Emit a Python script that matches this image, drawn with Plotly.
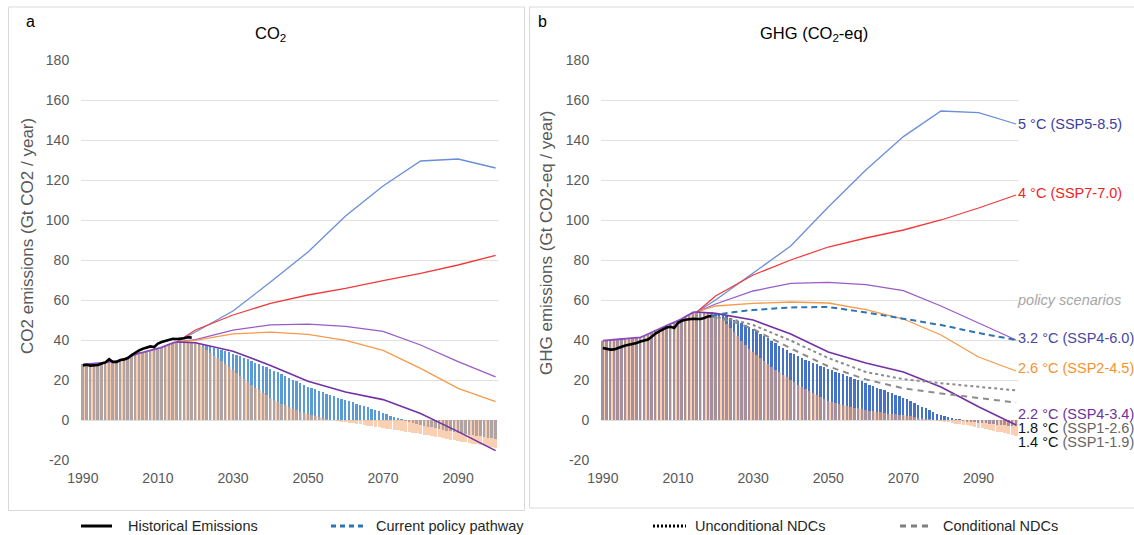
import plotly.graph_objects as go

# ---------------- data ----------------
years = list(range(1990, 2101))
hist_years = list(range(1990, 2020))
scen_years = [2015, 2020, 2030, 2040, 2050, 2060, 2070, 2080, 2090, 2100]
policy_years = [2019, 2020, 2025, 2030, 2040, 2050, 2060, 2070, 2080, 2090, 2100]
x_ticks = [1990, 2010, 2030, 2050, 2070, 2090]
y_ticks = [-20, 0, 20, 40, 60, 80, 100, 120, 140, 160, 180]
y_tick_labels = ["-20", "0", "20", "40", "60", "80", "100", "120", "140", "160", "180"]

# Panel a: CO2 (Gt CO2 / year)
co2_observed = [27.3, 27.6, 27.2, 27.2, 27.5, 28.2, 28.8, 30.4, 29.0, 29.0,
                30.0, 30.3, 31.0, 32.5, 33.8, 34.8, 35.6, 36.4, 36.8, 36.5,
                38.2, 39.0, 39.6, 40.2, 40.6, 40.5, 40.6, 40.9, 41.4, 41.2]
co2_scen_hist = [27.8, 27.9, 28.0, 28.2, 28.4, 28.6, 28.8, 29.1, 29.4, 29.6,
                 29.8, 30.5, 31.3, 32.1, 32.8, 33.4, 33.8, 34.3, 34.7, 35.1,
                 35.5, 36.3, 37.1, 37.9, 38.6, 39.0, 39.0, 39.0, 39.0, 39.0]
co2_ssp119 = [39.0, 37.8, 36.4, 35.0, 33.6, 32.2, 30.8, 29.4, 28.0, 26.5,
              25.0, 23.5, 22.0, 20.5, 19.0, 17.6, 16.2, 14.9, 13.6, 12.3,
              11.0, 10.0, 9.1, 8.2, 7.3, 6.5, 5.7, 4.9, 4.2, 3.6,
              3.0, 2.5, 2.0, 1.5, 1.0, 0.6, 0.2, -0.2, -0.5, -0.8,
              -1.0, -1.3, -1.6, -1.9, -2.2, -2.5, -2.8, -3.1, -3.4, -3.7,
              -4.0, -4.3, -4.6, -4.9, -5.2, -5.5, -5.8, -6.1, -6.4, -6.7,
              -7.0, -7.3, -7.7, -8.0, -8.4, -8.7, -9.1, -9.4, -9.8, -10.1,
              -10.5, -10.8, -11.2, -11.5, -11.9, -12.2, -12.6, -12.9, -13.3, -13.6,
              -14.0]
co2_ssp126 = [39.0, 38.5, 38.0, 37.4, 36.8, 36.2, 35.6, 35.0, 34.4, 33.8,
              33.2, 32.5, 31.8, 31.1, 30.3, 29.5, 28.7, 27.9, 27.1, 26.3,
              25.5, 24.7, 23.8, 22.9, 22.0, 21.1, 20.2, 19.3, 18.4, 17.5,
              16.7, 16.0, 15.3, 14.6, 13.9, 13.2, 12.5, 11.8, 11.1, 10.5,
              10.0, 9.4, 8.8, 8.2, 7.6, 7.0, 6.4, 5.7, 5.0, 4.3,
              3.6, 2.9, 2.2, 1.5, 0.8, 0.2, -0.4, -1.0, -1.5, -2.0,
              -2.5, -2.9, -3.3, -3.7, -4.1, -4.5, -4.9, -5.3, -5.7, -6.1,
              -6.4, -6.7, -7.0, -7.3, -7.6, -7.9, -8.2, -8.5, -8.8, -9.1,
              -9.4]
co2_ssp585 = [39.0, 44.0, 54.5, 69.0, 84.0, 102.0, 117.0, 129.5, 130.5, 126.0]
co2_ssp370 = [39.0, 45.0, 52.5, 58.3, 62.5, 65.8, 69.7, 73.3, 77.5, 82.3]
co2_ssp460 = [39.0, 40.2, 44.9, 47.6, 47.9, 46.8, 44.3, 37.5, 29.2, 21.6]
co2_ssp245 = [39.0, 39.8, 43.1, 43.9, 42.8, 39.8, 34.8, 25.8, 15.8, 9.2]
co2_ssp434 = [39.0, 38.6, 34.4, 27.3, 19.4, 14.0, 10.2, 3.2, -5.8, -15.3]

# Panel b: GHG (Gt CO2-eq / year)
ghg_observed = [36.0, 35.6, 35.2, 35.3, 35.8, 36.6, 37.2, 37.6, 38.0, 38.5,
                39.2, 39.6, 40.2, 41.6, 43.2, 44.3, 45.3, 46.3, 46.6, 46.0,
                48.6, 49.6, 50.1, 50.4, 50.6, 50.5, 50.5, 51.0, 51.8, 52.0]
ghg_scen_hist = [39.7, 39.8, 40.0, 40.1, 40.3, 40.5, 40.7, 40.9, 41.1, 41.2,
                 41.3, 42.1, 43.0, 43.9, 44.8, 45.7, 46.6, 47.4, 48.1, 48.8,
                 49.5, 50.6, 51.7, 52.8, 53.8, 54.0, 54.0, 54.0, 54.0, 54.0]
ghg_ssp119 = [53.0, 51.5, 49.8, 48.0, 46.0, 44.0, 41.8, 39.6, 37.6, 35.7,
              34.0, 32.4, 30.8, 29.3, 27.9, 26.5, 25.2, 23.9, 22.6, 21.3,
              20.0, 18.8, 17.6, 16.5, 15.4, 14.4, 13.4, 12.4, 11.4, 10.4,
              9.5, 8.9, 8.4, 7.9, 7.4, 7.0, 6.6, 6.2, 5.8, 5.4,
              5.0, 4.7, 4.4, 4.1, 3.8, 3.5, 3.2, 3.0, 2.8, 2.6,
              2.4, 2.1, 1.8, 1.5, 1.2, 0.9, 0.6, 0.3, 0.0, -0.3,
              -0.6, -0.9, -1.2, -1.5, -1.8, -2.1, -2.4, -2.7, -3.0, -3.4,
              -3.8, -4.2, -4.6, -5.0, -5.4, -5.8, -6.2, -6.6, -7.0, -7.4,
              -8.0]
ghg_ssp126 = [53.5, 53.0, 52.4, 51.8, 51.0, 50.2, 49.3, 48.4, 47.4, 46.4,
              45.4, 44.3, 43.2, 42.0, 40.8, 39.6, 38.4, 37.2, 36.0, 34.8,
              33.7, 32.8, 31.9, 31.0, 30.2, 29.4, 28.6, 27.8, 27.0, 26.3,
              25.6, 24.9, 24.2, 23.5, 22.8, 22.1, 21.4, 20.7, 20.0, 19.3,
              18.3, 17.6, 16.9, 16.2, 15.5, 14.8, 14.1, 13.4, 12.7, 12.0,
              11.2, 10.3, 9.4, 8.5, 7.6, 6.7, 5.8, 4.9, 4.0, 3.2,
              2.5, 1.9, 1.4, 0.9, 0.5, 0.1, -0.3, -0.6, -0.9, -1.1,
              -1.3, -1.5, -1.7, -1.9, -2.1, -2.3, -2.5, -2.7, -2.8, -2.9,
              -3.0]
ghg_ssp585 = [54.0, 60.0, 73.5, 87.0, 106.5, 125.0, 141.7, 154.5, 153.7, 148.0]
ghg_ssp370 = [54.0, 62.0, 72.5, 80.0, 86.5, 91.0, 95.0, 100.0, 106.0, 112.5]
ghg_ssp460 = [54.0, 58.0, 64.5, 68.3, 68.8, 67.7, 64.7, 57.0, 48.5, 40.0]
ghg_ssp245 = [54.0, 57.0, 58.3, 59.0, 58.5, 55.2, 50.5, 42.5, 31.5, 24.5]
ghg_ssp434 = [54.0, 53.3, 50.0, 43.0, 34.0, 28.5, 24.0, 16.5, 6.6, -2.5]
ghg_current_policy = [52.0, 52.5, 54.0, 55.0, 56.3, 56.5, 53.8, 50.8, 47.5, 43.5, 40.0]
ghg_uncond_ndc = [52.0, 51.5, 50.0, 47.5, 39.7, 31.0, 24.0, 20.4, 18.4, 16.7, 14.8]
ghg_cond_ndc = [52.0, 51.2, 49.0, 45.5, 35.8, 26.8, 20.3, 15.8, 13.3, 11.0, 8.7]

end_labels = ["5 °C (SSP5-8.5)", "4 °C (SSP7-7.0)", "<i>policy scenarios</i>",
              "3.2 °C (SSP4-6.0)", "2.6 °C (SSP2-4.5)", "2.2 °C (SSP4-3.4)",
              "<span style='color:#111111'>1.8 °C</span> (SSP1-2.6)",
              "<span style='color:#111111'>1.4 °C</span> (SSP1-1.9)"]
end_label_y = [147.5, 113.0, 59.5, 40.5, 25.5, 2.5, -4.8, -11.8]
end_label_colors = ["#3d3d9e", "#f02424", "#a6a6a6", "#4a46a6", "#f7922e",
                    "#7030a0", "#666666", "#666666"]

# ---------------- layout helpers ----------------
W, H = 1134, 535
FONT = "Liberation Sans, Arial, Helvetica, sans-serif"
GRID = "#e1e1e1"
TICK = "#595959"


def px(x):
    return x / W


def py(y):
    return 1 - y / H


C_SSP585 = "#6a8ed8"
C_SSP370 = "#f23a3a"
C_SSP460 = "#9a5cc8"
C_SSP245 = "#f79a4a"
C_SSP434 = "#7232a4"
C_HISTSC = "#8a4cbc"
BAR_BLUE_A = "rgb(91,155,213)"
BAR_BLUE_B = "rgb(68,114,200)"
BAR_ORANGE = "rgba(245,170,120,0.55)"

fig = go.Figure()


def add_panel(xa, ya, observed, scen_hist, ssp119, ssp126, scen, bar_blue):
    # annual pathway bars: SSP1-2.6 behind, SSP1-1.9 translucent in front
    fig.add_trace(go.Bar(x=years, y=scen_hist + ssp126, width=0.5,
                         marker=dict(color=bar_blue, line=dict(width=0)),
                         xaxis=xa, yaxis=ya, showlegend=False))
    fig.add_trace(go.Bar(x=years, y=scen_hist + ssp119, width=0.9,
                         marker=dict(color=BAR_ORANGE, line=dict(width=0)),
                         xaxis=xa, yaxis=ya, showlegend=False))
    # scenario lines
    for vals, col, w in [(scen[0], C_SSP585, 1.3), (scen[1], C_SSP370, 1.3),
                         (scen[2], C_SSP460, 1.3), (scen[3], C_SSP245, 1.3),
                         (scen[4], C_SSP434, 1.6)]:
        fig.add_trace(go.Scatter(x=scen_years, y=vals, mode="lines",
                                 line=dict(color=col, width=w),
                                 xaxis=xa, yaxis=ya, showlegend=False))
    # harmonised history of the scenarios
    fig.add_trace(go.Scatter(x=hist_years[:26], y=scen_hist[:26], mode="lines",
                             line=dict(color=C_HISTSC, width=1.8),
                             xaxis=xa, yaxis=ya, showlegend=False))
    # observed emissions
    fig.add_trace(go.Scatter(x=hist_years, y=observed, mode="lines",
                             line=dict(color="#000000", width=2.6),
                             xaxis=xa, yaxis=ya, showlegend=False))


add_panel("x", "y", co2_observed, co2_scen_hist, co2_ssp119, co2_ssp126,
          [co2_ssp585, co2_ssp370, co2_ssp460, co2_ssp245, co2_ssp434], BAR_BLUE_A)
add_panel("x2", "y2", ghg_observed, ghg_scen_hist, ghg_ssp119, ghg_ssp126,
          [ghg_ssp585, ghg_ssp370, ghg_ssp460, ghg_ssp245, ghg_ssp434], BAR_BLUE_B)

# policy pathways (panel b)
fig.add_trace(go.Scatter(x=policy_years, y=ghg_uncond_ndc, mode="lines",
                         line=dict(color="#8c8c8c", width=2, dash="dot"),
                         xaxis="x2", yaxis="y2", showlegend=False))
fig.add_trace(go.Scatter(x=policy_years, y=ghg_cond_ndc, mode="lines",
                         line=dict(color="#8c8c8c", width=2, dash="6px,5px"),
                         xaxis="x2", yaxis="y2", showlegend=False))
fig.add_trace(go.Scatter(x=policy_years, y=ghg_current_policy, mode="lines",
                         line=dict(color="#2e75b6", width=2, dash="6px,4px"),
                         xaxis="x2", yaxis="y2", showlegend=False))

# scenario names at the right end of panel b (anchored inside the x range)
fig.add_trace(go.Scatter(x=[2100.5] * len(end_labels), y=end_label_y, mode="text",
                         text=end_labels, textposition="middle right",
                         textfont=dict(family=FONT, size=14.5, color=end_label_colors),
                         cliponaxis=False, hoverinfo="skip",
                         xaxis="x2", yaxis="y2", showlegend=False))

axis_x = dict(range=[1989.5, 2100.5], tickvals=x_ticks, showgrid=False,
              zeroline=False, showline=False, ticks="outside", ticklen=5,
              tickcolor="rgba(0,0,0,0)", automargin=False,
              tickfont=dict(family=FONT, size=14, color=TICK))
axis_y = dict(range=[-20, 180], tickvals=y_ticks, ticktext=y_tick_labels,
              showgrid=True, gridcolor=GRID,
              gridwidth=1, zeroline=False, showline=False, ticks="outside",
              ticklen=8, tickcolor="rgba(0,0,0,0)", automargin=False,
              tickfont=dict(family=FONT, size=14, color=TICK))

fig.update_layout(
    width=W, height=H, margin=dict(l=0, r=0, t=0, b=0, pad=0, autoexpand=False),
    paper_bgcolor="white", plot_bgcolor="white",
    barmode="overlay", bargap=0, showlegend=False,
    xaxis=dict(domain=[px(81), px(497.5)], anchor="y", **axis_x),
    yaxis=dict(domain=[py(460), py(60)], anchor="x", **axis_y),
    xaxis2=dict(domain=[px(601), px(1018)], anchor="y2", **axis_x),
    yaxis2=dict(domain=[py(460), py(60)], anchor="x2", **axis_y),
)

shapes = [
    dict(type="rect", xref="paper", yref="paper", x0=px(8.5), x1=px(524.5),
         y0=py(510.5), y1=py(7), line=dict(color="#d9d9d9", width=1)),
    dict(type="rect", xref="paper", yref="paper", x0=px(529.5), x1=px(1140),
         y0=py(508), y1=py(7), line=dict(color="#d9d9d9", width=1)),
]

# legend samples
LY = py(526)
for x0, x1, col, dash in [(81, 112, "#000000", "solid"),
                          (331, 363, "#2e75b6", "5px,4px"),
                          (653, 686, "#000000", "2px,2px"),
                          (900, 932, "#7f7f7f", "6px,5px")]:
    shapes.append(dict(type="line", xref="paper", yref="paper", x0=px(x0), x1=px(x1),
                       y0=LY, y1=LY, line=dict(color=col, width=3, dash=dash)))
fig.update_layout(shapes=shapes)

ann = []


def text(x, y, s, size=14.5, color="#262626", xanchor="left", **kw):
    ann.append(dict(x=px(x), y=py(y), xref="paper", yref="paper", text=s,
                    showarrow=False, xanchor=xanchor, yanchor="middle",
                    align="left" if xanchor == "left" else "center",
                    font=dict(family=FONT, size=size, color=color), **kw))


text(24, 21, "a", size=16, color="#000000")
text(536, 21, "b", size=16, color="#000000")
text(270, 34, "CO<sub>2</sub>", size=16.5, color="#000000", xanchor="center")
text(814, 34, "GHG (CO<sub>2</sub>-eq)", size=16.5, color="#000000", xanchor="center")
text(28, 236, "CO2 emissions (Gt CO2 / year)", size=17, color=TICK,
     xanchor="center", textangle=-90)
text(546, 243, "GHG emissions (Gt CO2-eq / year)", size=17, color=TICK,
     xanchor="center", textangle=-90)

# legend labels
text(126, 526, "Historical Emissions")
text(374, 526, "Current policy pathway")
text(693, 526, "Unconditional NDCs")
text(941, 526, "Conditional NDCs")

fig.update_layout(annotations=ann)
fig.write_html("out.html")
